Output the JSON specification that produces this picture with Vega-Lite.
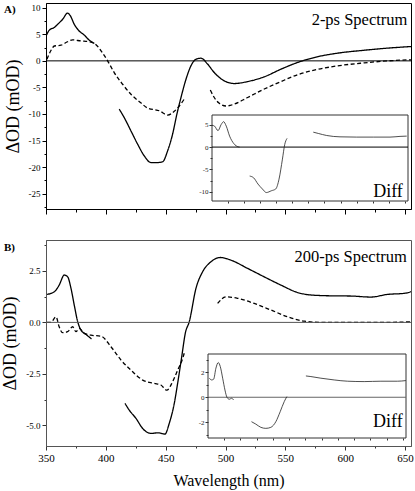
{
  "$schema": "https://vega.github.io/schema/vega-lite/v6.json",
  "padding": {"left": 1, "top": 2, "right": 5, "bottom": 3},
  "spacing": 24,
  "config": {
    "font": "Liberation Serif, Times New Roman, Times, serif",
    "view": {"stroke": "black", "strokeWidth": 1},
    "axis": {"grid": false, "labelFont": "Liberation Serif, Times New Roman, Times, serif", "titleFont": "Liberation Serif, Times New Roman, Times, serif", "labelColor": "black", "tickColor": "black", "domainColor": "black", "titleColor": "black", "titleFontWeight": "normal", "labelFlush": false, "labelOverlap": false},
    "text": {"font": "Liberation Serif, Times New Roman, Times, serif"},
    "locale": {"number": {"decimal": ".", "thousands": ",", "grouping": [3], "currency": ["$", ""], "minus": "-"}}
  },
  "datasets": {
    "mainA": [
      {"trace":"s1","kind":"solid","wl":350.5,"od":4.9},{"trace":"s1","kind":"solid","wl":352.8,"od":5.8},{"trace":"s1","kind":"solid","wl":357,"od":6.3},{"trace":"s1","kind":"solid","wl":359.8,"od":6.9},{"trace":"s1","kind":"solid","wl":364,"od":7.85},{"trace":"s1","kind":"solid","wl":368,"od":9.0},{"trace":"s1","kind":"solid","wl":370.3,"od":8.5},{"trace":"s1","kind":"solid","wl":373.6,"od":6.9},{"trace":"s1","kind":"solid","wl":377,"od":5.8},{"trace":"s1","kind":"solid","wl":382,"od":4.85},{"trace":"s1","kind":"solid","wl":386.2,"od":3.9},{"trace":"s1","kind":"solid","wl":389,"od":3.45},{"trace":"s1","kind":"solid","wl":390.4,"od":3.3},
      {"trace":"d1","kind":"dashed","wl":350.8,"od":0.3},{"trace":"d1","kind":"dashed","wl":354,"od":1.9},{"trace":"d1","kind":"dashed","wl":357,"od":2.8},{"trace":"d1","kind":"dashed","wl":362.5,"od":2.95},{"trace":"d1","kind":"dashed","wl":368,"od":3.6},{"trace":"d1","kind":"dashed","wl":372.3,"od":3.95},{"trace":"d1","kind":"dashed","wl":379,"od":3.75},{"trace":"d1","kind":"dashed","wl":386,"od":3.6},{"trace":"d1","kind":"dashed","wl":390.4,"od":3.3},{"trace":"d1","kind":"dashed","wl":396,"od":1.9},{"trace":"d1","kind":"dashed","wl":401.5,"od":0},{"trace":"d1","kind":"dashed","wl":407,"od":-2.2},{"trace":"d1","kind":"dashed","wl":414,"od":-4.4},{"trace":"d1","kind":"dashed","wl":421,"od":-6.3},{"trace":"d1","kind":"dashed","wl":429,"od":-7.85},{"trace":"d1","kind":"dashed","wl":435,"od":-8.9},{"trace":"d1","kind":"dashed","wl":444.7,"od":-9.4},{"trace":"d1","kind":"dashed","wl":451.7,"od":-10.2},{"trace":"d1","kind":"dashed","wl":457.2,"od":-9.5},{"trace":"d1","kind":"dashed","wl":461.4,"od":-8.5},{"trace":"d1","kind":"dashed","wl":465.5,"od":-7.2},
      {"trace":"s2","kind":"solid","wl":411.2,"od":-9.1},{"trace":"s2","kind":"solid","wl":415.4,"od":-10.7},{"trace":"s2","kind":"solid","wl":421,"od":-13.2},{"trace":"s2","kind":"solid","wl":426.6,"od":-15.7},{"trace":"s2","kind":"solid","wl":432.1,"od":-17.9},{"trace":"s2","kind":"solid","wl":437.7,"od":-19.15},{"trace":"s2","kind":"solid","wl":443.3,"od":-19.15},{"trace":"s2","kind":"solid","wl":447.5,"od":-19.0},{"trace":"s2","kind":"solid","wl":451.7,"od":-16.9},{"trace":"s2","kind":"solid","wl":455.8,"od":-13.8},{"trace":"s2","kind":"solid","wl":459.4,"od":-10.0},{"trace":"s2","kind":"solid","wl":462.8,"od":-6.9},{"trace":"s2","kind":"solid","wl":467,"od":-3.45},{"trace":"s2","kind":"solid","wl":471.1,"od":-0.94},{"trace":"s2","kind":"solid","wl":475.3,"od":0.3},{"trace":"s2","kind":"solid","wl":479.5,"od":0.5},{"trace":"s2","kind":"solid","wl":485,"od":-0.6},{"trace":"s2","kind":"solid","wl":490.6,"od":-2.2},{"trace":"s2","kind":"solid","wl":499,"od":-3.77},{"trace":"s2","kind":"solid","wl":507.3,"od":-4.27},{"trace":"s2","kind":"solid","wl":518.5,"od":-3.9},{"trace":"s2","kind":"solid","wl":532.4,"od":-3.0},{"trace":"s2","kind":"solid","wl":546.3,"od":-1.57},{"trace":"s2","kind":"solid","wl":560.3,"od":-0.3},{"trace":"s2","kind":"solid","wl":574.1,"od":0.63},{"trace":"s2","kind":"solid","wl":593.7,"od":1.45},{"trace":"s2","kind":"solid","wl":615.9,"od":2.0},{"trace":"s2","kind":"solid","wl":635.5,"od":2.4},{"trace":"s2","kind":"solid","wl":655,"od":2.7},
      {"trace":"d2","kind":"dashed","wl":487.3,"od":-5.5},{"trace":"d2","kind":"dashed","wl":490.6,"od":-6.9},{"trace":"d2","kind":"dashed","wl":494.8,"od":-8.0},{"trace":"d2","kind":"dashed","wl":500.4,"od":-8.5},{"trace":"d2","kind":"dashed","wl":507.3,"od":-8.15},{"trace":"d2","kind":"dashed","wl":518.5,"od":-6.9},{"trace":"d2","kind":"dashed","wl":532.4,"od":-5.3},{"trace":"d2","kind":"dashed","wl":546.3,"od":-3.9},{"trace":"d2","kind":"dashed","wl":560.3,"od":-2.6},{"trace":"d2","kind":"dashed","wl":574.1,"od":-1.75},{"trace":"d2","kind":"dashed","wl":593.7,"od":-0.94},{"trace":"d2","kind":"dashed","wl":615.9,"od":-0.38},{"trace":"d2","kind":"dashed","wl":635.5,"od":0},{"trace":"d2","kind":"dashed","wl":655,"od":0.2}
    ],
    "diffA": [
      {"seg":1,"wl":350,"od":4.9},{"seg":1,"wl":354,"od":4.7},{"seg":1,"wl":359.3,"od":3.7},{"seg":1,"wl":364.4,"od":5.1},{"seg":1,"wl":368,"od":5.7},{"seg":1,"wl":372.2,"od":4.7},{"seg":1,"wl":377.4,"od":2.46},{"seg":1,"wl":384.2,"od":0.74},{"seg":1,"wl":390.4,"od":0.07},{"seg":1,"wl":393,"od":0},
      {"seg":2,"wl":408.6,"od":-6.5},{"seg":2,"wl":414.8,"od":-6.9},{"seg":2,"wl":421.6,"od":-8.3},{"seg":2,"wl":428.4,"od":-9.4},{"seg":2,"wl":434.6,"od":-10.2},{"seg":2,"wl":442.4,"od":-9.8},{"seg":2,"wl":449.2,"od":-9.4},{"seg":2,"wl":454.3,"od":-7.2},{"seg":2,"wl":459.6,"od":-2.7},{"seg":2,"wl":463.2,"od":0.6},{"seg":2,"wl":466.8,"od":1.95},
      {"seg":3,"wl":507.6,"od":3.35},{"seg":3,"wl":515.4,"od":3.06},{"seg":3,"wl":528.4,"od":2.6},{"seg":3,"wl":549.2,"od":2.3},{"seg":3,"wl":575.2,"od":2.24},{"seg":3,"wl":601,"od":2.24},{"seg":3,"wl":627,"od":2.24},{"seg":3,"wl":642.6,"od":2.4},{"seg":3,"wl":653,"od":2.46}
    ],
    "mainB": [
      {"trace":"s1","kind":"solid","wl":350.8,"od":1.36},{"trace":"s1","kind":"solid","wl":357,"od":1.49},{"trace":"s1","kind":"solid","wl":361,"od":1.81},{"trace":"s1","kind":"solid","wl":365.3,"od":2.3},{"trace":"s1","kind":"solid","wl":368.1,"od":2.21},{"trace":"s1","kind":"solid","wl":370.9,"od":1.65},{"trace":"s1","kind":"solid","wl":373.6,"od":0.84},{"trace":"s1","kind":"solid","wl":376.5,"od":0.03},{"trace":"s1","kind":"solid","wl":379.2,"od":-0.37},{"trace":"s1","kind":"solid","wl":383.4,"od":-0.58},{"trace":"s1","kind":"solid","wl":388,"od":-0.8},
      {"trace":"d1","kind":"dashed","wl":350.8,"od":0},{"trace":"d1","kind":"dashed","wl":354,"od":0},{"trace":"d1","kind":"dashed","wl":358.4,"od":0.27},{"trace":"d1","kind":"dashed","wl":361,"od":-0.21},{"trace":"d1","kind":"dashed","wl":363.9,"od":-0.5},{"trace":"d1","kind":"dashed","wl":368.1,"od":-0.45},{"trace":"d1","kind":"dashed","wl":372.3,"od":-0.21},{"trace":"d1","kind":"dashed","wl":375,"od":-0.45},{"trace":"d1","kind":"dashed","wl":377.8,"od":-0.29},{"trace":"d1","kind":"dashed","wl":382,"od":-0.53},{"trace":"d1","kind":"dashed","wl":387.6,"od":-0.62},{"trace":"d1","kind":"dashed","wl":396,"od":-0.67},{"trace":"d1","kind":"dashed","wl":404.3,"od":-1.18},{"trace":"d1","kind":"dashed","wl":412.7,"od":-1.83},{"trace":"d1","kind":"dashed","wl":421,"od":-2.32},{"trace":"d1","kind":"dashed","wl":430.8,"od":-2.8},{"trace":"d1","kind":"dashed","wl":440.5,"od":-2.96},{"trace":"d1","kind":"dashed","wl":446,"od":-3.04},{"trace":"d1","kind":"dashed","wl":451,"od":-3.29},{"trace":"d1","kind":"dashed","wl":455.8,"od":-2.88},{"trace":"d1","kind":"dashed","wl":460,"od":-2.32},{"trace":"d1","kind":"dashed","wl":464.2,"od":-1.75},{"trace":"d1","kind":"dashed","wl":465.5,"od":-1.5},
      {"trace":"s2","kind":"solid","wl":416,"od":-3.93},{"trace":"s2","kind":"solid","wl":419.6,"od":-4.26},{"trace":"s2","kind":"solid","wl":425.2,"od":-4.66},{"trace":"s2","kind":"solid","wl":430.8,"od":-5.15},{"trace":"s2","kind":"solid","wl":437.7,"od":-5.39},{"trace":"s2","kind":"solid","wl":443.3,"od":-5.36},{"trace":"s2","kind":"solid","wl":449.4,"od":-5.42},{"trace":"s2","kind":"solid","wl":453,"od":-4.9},{"trace":"s2","kind":"solid","wl":457.2,"od":-3.93},{"trace":"s2","kind":"solid","wl":460,"od":-2.96},{"trace":"s2","kind":"solid","wl":463.4,"od":-1.67},{"trace":"s2","kind":"solid","wl":466.5,"od":-0.5},{"trace":"s2","kind":"solid","wl":469.7,"od":0.03},{"trace":"s2","kind":"solid","wl":475.3,"od":1.65},{"trace":"s2","kind":"solid","wl":480.9,"od":2.46},{"trace":"s2","kind":"solid","wl":487.8,"od":2.94},{"trace":"s2","kind":"solid","wl":495.6,"od":3.15},{"trace":"s2","kind":"solid","wl":504.6,"od":3.02},{"trace":"s2","kind":"solid","wl":518.5,"od":2.62},{"trace":"s2","kind":"solid","wl":532.4,"od":2.21},{"trace":"s2","kind":"solid","wl":546.3,"od":1.81},{"trace":"s2","kind":"solid","wl":560.3,"od":1.45},{"trace":"s2","kind":"solid","wl":571.4,"od":1.33},{"trace":"s2","kind":"solid","wl":588.1,"od":1.29},{"trace":"s2","kind":"solid","wl":604.8,"od":1.28},{"trace":"s2","kind":"solid","wl":621.5,"od":1.23},{"trace":"s2","kind":"solid","wl":635.5,"od":1.36},{"trace":"s2","kind":"solid","wl":649.3,"od":1.41},{"trace":"s2","kind":"solid","wl":655,"od":1.49},
      {"trace":"d2","kind":"dashed","wl":493.4,"od":0.92},{"trace":"d2","kind":"dashed","wl":500.4,"od":1.24},{"trace":"d2","kind":"dashed","wl":510.1,"od":1.17},{"trace":"d2","kind":"dashed","wl":524,"od":0.92},{"trace":"d2","kind":"dashed","wl":538,"od":0.6},{"trace":"d2","kind":"dashed","wl":551.9,"od":0.27},{"trace":"d2","kind":"dashed","wl":565.8,"od":0.06},{"trace":"d2","kind":"dashed","wl":579.7,"od":0},{"trace":"d2","kind":"dashed","wl":607.6,"od":0},{"trace":"d2","kind":"dashed","wl":635.5,"od":0},{"trace":"d2","kind":"dashed","wl":655,"od":0.03}
    ],
    "diffB": [
      {"seg":1,"wl":352,"od":1.52},{"seg":1,"wl":355.6,"od":1.38},{"seg":1,"wl":358.7,"od":1.44},{"seg":1,"wl":362.2,"od":2.32},{"seg":1,"wl":365.8,"od":2.77},{"seg":1,"wl":368.9,"od":2.45},{"seg":1,"wl":372.6,"od":1.52},{"seg":1,"wl":376.1,"od":0.58},{"seg":1,"wl":379.2,"od":0},{"seg":1,"wl":382.8,"od":-0.16},{"seg":1,"wl":386.4,"od":-0.08},{"seg":1,"wl":389.5,"od":-0.22},
      {"seg":2,"wl":417,"od":-1.95},{"seg":2,"wl":423.6,"od":-2.14},{"seg":2,"wl":431.4,"od":-2.4},{"seg":2,"wl":439.1,"od":-2.48},{"seg":2,"wl":446.8,"od":-2.4},{"seg":2,"wl":454.5,"od":-1.95},{"seg":2,"wl":461.2,"od":-1.15},{"seg":2,"wl":467.4,"od":-0.35},{"seg":2,"wl":471.5,"od":0.05},
      {"seg":3,"wl":500.8,"od":1.7},{"seg":3,"wl":508.5,"od":1.65},{"seg":3,"wl":523.9,"od":1.52},{"seg":3,"wl":544.4,"od":1.38},{"seg":3,"wl":565,"od":1.28},{"seg":3,"wl":590.6,"od":1.25},{"seg":3,"wl":616.3,"od":1.28},{"seg":3,"wl":642,"od":1.28},{"seg":3,"wl":654.8,"od":1.33}
    ]
  },
  "vconcat": [
    {
      "width": 365,
      "height": 206,
      "resolve": {"scale": {"x": "independent", "y": "independent"}, "axis": {"x": "independent", "y": "independent"}},
      "layer": [
        {
          "layer": [
            {"data": {"name": "mainA"}, "mark": {"type": "line", "color": "black", "strokeWidth": 1.3, "interpolate": "monotone"},
              "encoding": {
                "x": {"field": "wl", "type": "quantitative", "scale": {"domain": [350, 655], "nice": false, "zero": false},
                  "axis": {"orient": "bottom", "values": [350,375,400,425,450,475,500,525,550,575,600,625,650], "format": "d", "labels": false, "title": null,
                    "tickSize": {"condition": {"test": "datum.value % 50 === 0", "value": 5}, "value": 3}}},
                "y": {"field": "od", "type": "quantitative", "scale": {"domain": [-27.9, 10.9], "nice": false, "zero": false},
                  "axis": {"orient": "left", "values": [-27.5,-25,-22.5,-20,-17.5,-15,-12.5,-10,-7.5,-5,-2.5,0,2.5,5,7.5,10], "format": "d",
                    "labelExpr": "datum.value % 5 === 0 ? datum.label : ''", "labelFontSize": 9, "labelPadding": 2,
                    "tickSize": {"condition": {"test": "datum.value % 5 === 0", "value": 4}, "value": 2},
                    "title": "ΔOD (mOD)", "titleFontSize": 18, "titlePadding": 6}},
                "strokeDash": {"field": "kind", "type": "nominal", "scale": {"domain": ["solid", "dashed"], "range": [[1, 0], [4, 2.5]]}, "legend": null},
                "detail": {"field": "trace", "type": "nominal"}}},
            {"data": {"values": [{}]}, "mark": {"type": "rule", "color": "black", "strokeWidth": 1},
              "encoding": {
                "y": {"datum": 0, "type": "quantitative", "scale": {"domain": [-27.9, 10.9], "nice": false, "zero": false},
                  "axis": {"orient": "left", "values": [-27.5,-25,-22.5,-20,-17.5,-15,-12.5,-10,-7.5,-5,-2.5,0,2.5,5,7.5,10], "format": "d",
                    "labelExpr": "datum.value % 5 === 0 ? datum.label : ''", "labelFontSize": 9, "labelPadding": 2,
                    "tickSize": {"condition": {"test": "datum.value % 5 === 0", "value": 4}, "value": 2},
                    "title": "ΔOD (mOD)", "titleFontSize": 18, "titlePadding": 6}}}},
            {"data": {"values": [{}]}, "mark": {"type": "text", "align": "right", "baseline": "alphabetic", "fontSize": 16.5, "color": "black"},
              "encoding": {
                "x": {"datum": 652, "type": "quantitative", "scale": {"domain": [350, 655], "nice": false, "zero": false},
                  "axis": {"orient": "bottom", "values": [350,375,400,425,450,475,500,525,550,575,600,625,650], "format": "d", "labels": false, "title": null,
                    "tickSize": {"condition": {"test": "datum.value % 50 === 0", "value": 5}, "value": 3}}},
                "y": {"datum": 6.7, "type": "quantitative", "scale": {"domain": [-27.9, 10.9], "nice": false, "zero": false},
                  "axis": {"orient": "left", "values": [-27.5,-25,-22.5,-20,-17.5,-15,-12.5,-10,-7.5,-5,-2.5,0,2.5,5,7.5,10], "format": "d",
                    "labelExpr": "datum.value % 5 === 0 ? datum.label : ''", "labelFontSize": 9, "labelPadding": 2,
                    "tickSize": {"condition": {"test": "datum.value % 5 === 0", "value": 4}, "value": 2},
                    "title": "ΔOD (mOD)", "titleFontSize": 18, "titlePadding": 6}},
                "text": {"value": "2-ps Spectrum"}}},
            {"data": {"values": [{}]}, "mark": {"type": "text", "align": "left", "baseline": "top", "dx": -42, "dy": 1, "fontSize": 11, "fontWeight": "bold", "color": "black"},
              "encoding": {
                "x": {"datum": 350, "type": "quantitative", "scale": {"domain": [350, 655], "nice": false, "zero": false},
                  "axis": {"orient": "bottom", "values": [350,375,400,425,450,475,500,525,550,575,600,625,650], "format": "d", "labels": false, "title": null,
                    "tickSize": {"condition": {"test": "datum.value % 50 === 0", "value": 5}, "value": 3}}},
                "y": {"datum": 10.9, "type": "quantitative", "scale": {"domain": [-27.9, 10.9], "nice": false, "zero": false},
                  "axis": {"orient": "left", "values": [-27.5,-25,-22.5,-20,-17.5,-15,-12.5,-10,-7.5,-5,-2.5,0,2.5,5,7.5,10], "format": "d",
                    "labelExpr": "datum.value % 5 === 0 ? datum.label : ''", "labelFontSize": 9, "labelPadding": 2,
                    "tickSize": {"condition": {"test": "datum.value % 5 === 0", "value": 4}, "value": 2},
                    "title": "ΔOD (mOD)", "titleFontSize": 18, "titlePadding": 6}},
                "text": {"value": "A)"}}}
          ]
        },
        {
          "layer": [
            {"data": {"values": [{}]}, "mark": {"type": "rect", "fill": "white", "stroke": "#333", "strokeWidth": 1},
              "encoding": {
                "x": {"datum": 350, "type": "quantitative", "scale": {"domain": [350, 655], "nice": false, "zero": false, "range": [166, 362]},
                  "axis": {"orient": "bottom", "offset": -8, "zindex": 1, "domain": false, "values": [375,400,425,450,475,500,525,550,575,600,625,650], "format": "d", "labels": false, "title": null, "tickSize": 2, "tickColor": "#333"}},
                "x2": {"datum": 655},
                "y": {"datum": -12.1, "type": "quantitative", "scale": {"domain": [-12.1, 7.2], "nice": false, "zero": false, "range": [198, 112]},
                  "axis": {"orient": "left", "offset": -166, "zindex": 1, "domain": false, "values": [-10,-7.5,-5,-2.5,0,2.5,5], "format": "d",
                    "labelExpr": "datum.value % 5 === 0 ? datum.label : ''", "labelFontSize": 7, "labelPadding": 1, "labelColor": "#222",
                    "tickSize": {"condition": {"test": "datum.value % 5 === 0", "value": 3}, "value": 2}, "tickColor": "#333", "title": null}},
                "y2": {"datum": 7.2}}},
            {"data": {"values": [{}]}, "mark": {"type": "rule", "color": "black", "strokeWidth": 1},
              "encoding": {
                "x": {"datum": 350, "type": "quantitative", "scale": {"domain": [350, 655], "nice": false, "zero": false, "range": [166, 362]},
                  "axis": {"orient": "bottom", "offset": -8, "zindex": 1, "domain": false, "values": [375,400,425,450,475,500,525,550,575,600,625,650], "format": "d", "labels": false, "title": null, "tickSize": 2, "tickColor": "#333"}},
                "x2": {"datum": 655},
                "y": {"datum": 0, "type": "quantitative", "scale": {"domain": [-12.1, 7.2], "nice": false, "zero": false, "range": [198, 112]},
                  "axis": {"orient": "left", "offset": -166, "zindex": 1, "domain": false, "values": [-10,-7.5,-5,-2.5,0,2.5,5], "format": "d",
                    "labelExpr": "datum.value % 5 === 0 ? datum.label : ''", "labelFontSize": 7, "labelPadding": 1, "labelColor": "#222",
                    "tickSize": {"condition": {"test": "datum.value % 5 === 0", "value": 3}, "value": 2}, "tickColor": "#333", "title": null}}}},
            {"data": {"name": "diffA"}, "mark": {"type": "line", "color": "#222", "strokeWidth": 0.8, "interpolate": "monotone"},
              "encoding": {
                "x": {"field": "wl", "type": "quantitative", "scale": {"domain": [350, 655], "nice": false, "zero": false, "range": [166, 362]},
                  "axis": {"orient": "bottom", "offset": -8, "zindex": 1, "domain": false, "values": [375,400,425,450,475,500,525,550,575,600,625,650], "format": "d", "labels": false, "title": null, "tickSize": 2, "tickColor": "#333"}},
                "y": {"field": "od", "type": "quantitative", "scale": {"domain": [-12.1, 7.2], "nice": false, "zero": false, "range": [198, 112]},
                  "axis": {"orient": "left", "offset": -166, "zindex": 1, "domain": false, "values": [-10,-7.5,-5,-2.5,0,2.5,5], "format": "d",
                    "labelExpr": "datum.value % 5 === 0 ? datum.label : ''", "labelFontSize": 7, "labelPadding": 1, "labelColor": "#222",
                    "tickSize": {"condition": {"test": "datum.value % 5 === 0", "value": 3}, "value": 2}, "tickColor": "#333", "title": null}},
                "detail": {"field": "seg", "type": "nominal"}}},
            {"data": {"values": [{}]}, "mark": {"type": "text", "align": "right", "baseline": "alphabetic", "fontSize": 18, "color": "black"},
              "encoding": {
                "x": {"datum": 647, "type": "quantitative", "scale": {"domain": [350, 655], "nice": false, "zero": false, "range": [166, 362]},
                  "axis": {"orient": "bottom", "offset": -8, "zindex": 1, "domain": false, "values": [375,400,425,450,475,500,525,550,575,600,625,650], "format": "d", "labels": false, "title": null, "tickSize": 2, "tickColor": "#333"}},
                "y": {"datum": -11.3, "type": "quantitative", "scale": {"domain": [-12.1, 7.2], "nice": false, "zero": false, "range": [198, 112]},
                  "axis": {"orient": "left", "offset": -166, "zindex": 1, "domain": false, "values": [-10,-7.5,-5,-2.5,0,2.5,5], "format": "d",
                    "labelExpr": "datum.value % 5 === 0 ? datum.label : ''", "labelFontSize": 7, "labelPadding": 1, "labelColor": "#222",
                    "tickSize": {"condition": {"test": "datum.value % 5 === 0", "value": 3}, "value": 2}, "tickColor": "#333", "title": null}},
                "text": {"value": "Diff"}}}
          ]
        }
      ]
    },
    {
      "width": 365,
      "height": 206,
      "view": {"stroke": "#555"},
      "resolve": {"scale": {"x": "independent", "y": "independent"}, "axis": {"x": "independent", "y": "independent"}},
      "layer": [
        {
          "layer": [
            {"data": {"name": "mainB"}, "mark": {"type": "line", "color": "black", "strokeWidth": 1.3, "interpolate": "monotone"},
              "encoding": {
                "x": {"field": "wl", "type": "quantitative", "scale": {"domain": [350, 655], "nice": false, "zero": false},
                  "axis": {"orient": "bottom", "values": [350,375,400,425,450,475,500,525,550,575,600,625,650], "format": "d",
                    "labelExpr": "datum.value % 50 === 0 ? datum.label : ''", "labelFontSize": 11, "labelPadding": 2,
                    "domainColor": "#555", "tickColor": "#333",
                    "tickSize": {"condition": {"test": "datum.value % 50 === 0", "value": 4}, "value": 2},
                    "title": "Wavelength (nm)", "titleFontSize": 16, "titlePadding": 9}},
                "y": {"field": "od", "type": "quantitative", "scale": {"domain": [-6, 4], "nice": false, "zero": false},
                  "axis": {"orient": "left", "values": [-5,-3.75,-2.5,-1.25,0,1.25,2.5,3.75], "format": ".1f",
                    "labelExpr": "datum.value % 2.5 === 0 ? datum.label : ''", "labelFontSize": 9, "labelPadding": 2,
                    "domainColor": "#555", "tickColor": "#333",
                    "tickSize": {"condition": {"test": "datum.value % 2.5 === 0", "value": 4}, "value": 2},
                    "title": "ΔOD (mOD)", "titleFontSize": 18, "titlePadding": 6}},
                "strokeDash": {"field": "kind", "type": "nominal", "scale": {"domain": ["solid", "dashed"], "range": [[1, 0], [4, 2.5]]}, "legend": null},
                "detail": {"field": "trace", "type": "nominal"}}},
            {"data": {"values": [{}]}, "mark": {"type": "rule", "color": "#555", "strokeWidth": 1},
              "encoding": {
                "y": {"datum": 0, "type": "quantitative", "scale": {"domain": [-6, 4], "nice": false, "zero": false},
                  "axis": {"orient": "left", "values": [-5,-3.75,-2.5,-1.25,0,1.25,2.5,3.75], "format": ".1f",
                    "labelExpr": "datum.value % 2.5 === 0 ? datum.label : ''", "labelFontSize": 9, "labelPadding": 2,
                    "domainColor": "#555", "tickColor": "#333",
                    "tickSize": {"condition": {"test": "datum.value % 2.5 === 0", "value": 4}, "value": 2},
                    "title": "ΔOD (mOD)", "titleFontSize": 18, "titlePadding": 6}}}},
            {"data": {"values": [{}]}, "mark": {"type": "text", "align": "right", "baseline": "alphabetic", "fontSize": 16.5, "color": "black"},
              "encoding": {
                "x": {"datum": 651.5, "type": "quantitative", "scale": {"domain": [350, 655], "nice": false, "zero": false},
                  "axis": {"orient": "bottom", "values": [350,375,400,425,450,475,500,525,550,575,600,625,650], "format": "d",
                    "labelExpr": "datum.value % 50 === 0 ? datum.label : ''", "labelFontSize": 11, "labelPadding": 2,
                    "domainColor": "#555", "tickColor": "#333",
                    "tickSize": {"condition": {"test": "datum.value % 50 === 0", "value": 4}, "value": 2},
                    "title": "Wavelength (nm)", "titleFontSize": 16, "titlePadding": 9}},
                "y": {"datum": 2.94, "type": "quantitative", "scale": {"domain": [-6, 4], "nice": false, "zero": false},
                  "axis": {"orient": "left", "values": [-5,-3.75,-2.5,-1.25,0,1.25,2.5,3.75], "format": ".1f",
                    "labelExpr": "datum.value % 2.5 === 0 ? datum.label : ''", "labelFontSize": 9, "labelPadding": 2,
                    "domainColor": "#555", "tickColor": "#333",
                    "tickSize": {"condition": {"test": "datum.value % 2.5 === 0", "value": 4}, "value": 2},
                    "title": "ΔOD (mOD)", "titleFontSize": 18, "titlePadding": 6}},
                "text": {"value": "200-ps Spectrum"}}},
            {"data": {"values": [{}]}, "mark": {"type": "text", "align": "left", "baseline": "top", "dx": -42, "dy": 2, "fontSize": 11, "fontWeight": "bold", "color": "black"},
              "encoding": {
                "x": {"datum": 350, "type": "quantitative", "scale": {"domain": [350, 655], "nice": false, "zero": false},
                  "axis": {"orient": "bottom", "values": [350,375,400,425,450,475,500,525,550,575,600,625,650], "format": "d",
                    "labelExpr": "datum.value % 50 === 0 ? datum.label : ''", "labelFontSize": 11, "labelPadding": 2,
                    "domainColor": "#555", "tickColor": "#333",
                    "tickSize": {"condition": {"test": "datum.value % 50 === 0", "value": 4}, "value": 2},
                    "title": "Wavelength (nm)", "titleFontSize": 16, "titlePadding": 9}},
                "y": {"datum": 4, "type": "quantitative", "scale": {"domain": [-6, 4], "nice": false, "zero": false},
                  "axis": {"orient": "left", "values": [-5,-3.75,-2.5,-1.25,0,1.25,2.5,3.75], "format": ".1f",
                    "labelExpr": "datum.value % 2.5 === 0 ? datum.label : ''", "labelFontSize": 9, "labelPadding": 2,
                    "domainColor": "#555", "tickColor": "#333",
                    "tickSize": {"condition": {"test": "datum.value % 2.5 === 0", "value": 4}, "value": 2},
                    "title": "ΔOD (mOD)", "titleFontSize": 18, "titlePadding": 6}},
                "text": {"value": "B)"}}}
          ]
        },
        {
          "layer": [
            {"data": {"values": [{}]}, "mark": {"type": "rect", "fill": "white", "stroke": "#333", "strokeWidth": 1},
              "encoding": {
                "x": {"datum": 350, "type": "quantitative", "scale": {"domain": [350, 655], "nice": false, "zero": false, "range": [162, 360]},
                  "axis": {"orient": "bottom", "offset": -8, "zindex": 1, "domain": false, "values": [375,400,425,450,475,500,525,550,575,600,625,650], "format": "d", "labels": false, "title": null, "tickSize": 2, "tickColor": "#333"}},
                "x2": {"datum": 655},
                "y": {"datum": -3.25, "type": "quantitative", "scale": {"domain": [-3.25, 3.45], "nice": false, "zero": false, "range": [198, 114]},
                  "axis": {"orient": "left", "offset": -162, "zindex": 1, "domain": false, "values": [-3,-2,-1,0,1,2,3], "format": "d",
                    "labelExpr": "datum.value % 2 === 0 ? datum.label : ''", "labelFontSize": 7, "labelPadding": 1, "labelColor": "#222",
                    "tickSize": {"condition": {"test": "datum.value % 2 === 0", "value": 3}, "value": 2}, "tickColor": "#333", "title": null}},
                "y2": {"datum": 3.45}}},
            {"data": {"values": [{}]}, "mark": {"type": "rule", "color": "#666", "strokeWidth": 1},
              "encoding": {
                "x": {"datum": 350, "type": "quantitative", "scale": {"domain": [350, 655], "nice": false, "zero": false, "range": [162, 360]},
                  "axis": {"orient": "bottom", "offset": -8, "zindex": 1, "domain": false, "values": [375,400,425,450,475,500,525,550,575,600,625,650], "format": "d", "labels": false, "title": null, "tickSize": 2, "tickColor": "#333"}},
                "x2": {"datum": 655},
                "y": {"datum": 0, "type": "quantitative", "scale": {"domain": [-3.25, 3.45], "nice": false, "zero": false, "range": [198, 114]},
                  "axis": {"orient": "left", "offset": -162, "zindex": 1, "domain": false, "values": [-3,-2,-1,0,1,2,3], "format": "d",
                    "labelExpr": "datum.value % 2 === 0 ? datum.label : ''", "labelFontSize": 7, "labelPadding": 1, "labelColor": "#222",
                    "tickSize": {"condition": {"test": "datum.value % 2 === 0", "value": 3}, "value": 2}, "tickColor": "#333", "title": null}}}},
            {"data": {"name": "diffB"}, "mark": {"type": "line", "color": "#222", "strokeWidth": 0.8, "interpolate": "monotone"},
              "encoding": {
                "x": {"field": "wl", "type": "quantitative", "scale": {"domain": [350, 655], "nice": false, "zero": false, "range": [162, 360]},
                  "axis": {"orient": "bottom", "offset": -8, "zindex": 1, "domain": false, "values": [375,400,425,450,475,500,525,550,575,600,625,650], "format": "d", "labels": false, "title": null, "tickSize": 2, "tickColor": "#333"}},
                "y": {"field": "od", "type": "quantitative", "scale": {"domain": [-3.25, 3.45], "nice": false, "zero": false, "range": [198, 114]},
                  "axis": {"orient": "left", "offset": -162, "zindex": 1, "domain": false, "values": [-3,-2,-1,0,1,2,3], "format": "d",
                    "labelExpr": "datum.value % 2 === 0 ? datum.label : ''", "labelFontSize": 7, "labelPadding": 1, "labelColor": "#222",
                    "tickSize": {"condition": {"test": "datum.value % 2 === 0", "value": 3}, "value": 2}, "tickColor": "#333", "title": null}},
                "detail": {"field": "seg", "type": "nominal"}}},
            {"data": {"values": [{}]}, "mark": {"type": "text", "align": "right", "baseline": "alphabetic", "fontSize": 18, "color": "black"},
              "encoding": {
                "x": {"datum": 650, "type": "quantitative", "scale": {"domain": [350, 655], "nice": false, "zero": false, "range": [162, 360]},
                  "axis": {"orient": "bottom", "offset": -8, "zindex": 1, "domain": false, "values": [375,400,425,450,475,500,525,550,575,600,625,650], "format": "d", "labels": false, "title": null, "tickSize": 2, "tickColor": "#333"}},
                "y": {"datum": -2.4, "type": "quantitative", "scale": {"domain": [-3.25, 3.45], "nice": false, "zero": false, "range": [198, 114]},
                  "axis": {"orient": "left", "offset": -162, "zindex": 1, "domain": false, "values": [-3,-2,-1,0,1,2,3], "format": "d",
                    "labelExpr": "datum.value % 2 === 0 ? datum.label : ''", "labelFontSize": 7, "labelPadding": 1, "labelColor": "#222",
                    "tickSize": {"condition": {"test": "datum.value % 2 === 0", "value": 3}, "value": 2}, "tickColor": "#333", "title": null}},
                "text": {"value": "Diff"}}}
          ]
        }
      ]
    }
  ]
}
